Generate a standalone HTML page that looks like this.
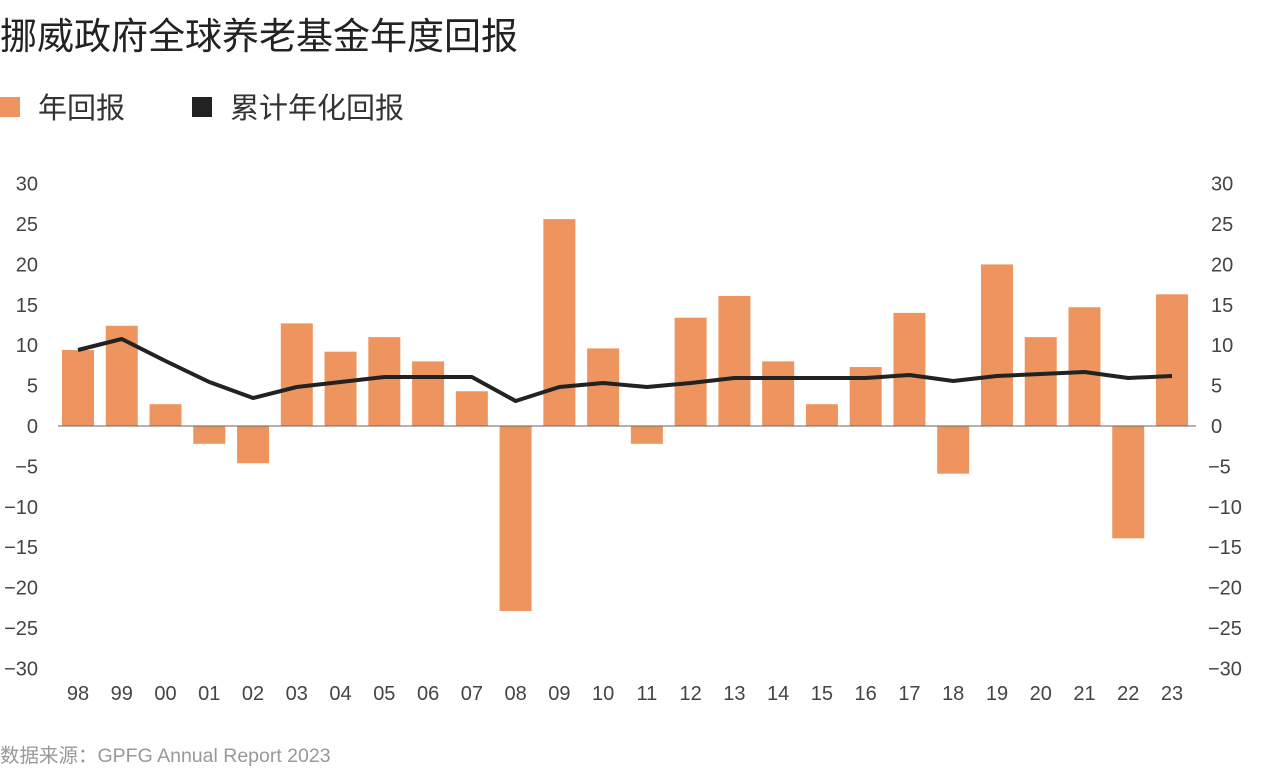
<!DOCTYPE html>
<html><head><meta charset="utf-8"><style>
body{margin:0;background:#fff;width:1280px;height:768px;overflow:hidden;font-family:"Liberation Sans","Noto Sans CJK SC",sans-serif}
</style></head><body>
<svg width="1280" height="768" xmlns="http://www.w3.org/2000/svg" font-family="Liberation Sans, Noto Sans CJK SC, sans-serif">
<text x="0" y="49" font-size="37" fill="#222">挪威政府全球养老基金年度回报</text>
<rect x="0" y="97" width="20" height="20" fill="#EE955F"/>
<text x="38" y="118" font-size="29" fill="#333">年回报</text>
<rect x="192" y="97" width="20" height="20" fill="#222"/>
<text x="230" y="118" font-size="29" fill="#333">累计年化回报</text>
<g id="ax" font-size="20" fill="#444"></g>
<g id="bars" fill="#EE955F"></g>
<line x1="58" y1="426" x2="1196" y2="426" stroke="#666" stroke-width="1"/>
<polyline id="ln" fill="none" stroke="#222" stroke-width="4" stroke-linejoin="round"/>
<text x="0" y="762" font-size="19.5" fill="#999">数据来源：GPFG Annual Report 2023</text>
</svg>
<script>
const ns="http://www.w3.org/2000/svg";
const z=426,s=8.08;
const vals=[9.4,12.4,2.7,-2.2,-4.6,12.7,9.2,11.0,8.0,4.3,-22.9,25.6,9.6,-2.2,13.4,16.1,8.0,2.7,7.3,14.0,-5.9,20.0,11.0,14.7,-13.9,16.3];
const ly=[350,339,361,382,398,387,382,377,377,377,401,387,383,387,383,378,378,378,378,375,381,376,374,372,378,376];
const labs=["98","99","00","01","02","03","04","05","06","07","08","09","10","11","12","13","14","15","16","17","18","19","20","21","22","23"];
const bars=document.getElementById("bars"),ax=document.getElementById("ax");
let pts=[];
vals.forEach((v,i)=>{const cx=78+i*43.76;const r=document.createElementNS(ns,"rect");
const h=Math.abs(v)*s;r.setAttribute("x",cx-16);r.setAttribute("width",32);r.setAttribute("y",v>=0?z-h:z);r.setAttribute("height",h);bars.appendChild(r);
pts.push(cx+","+ly[i]);
const t=document.createElementNS(ns,"text");t.setAttribute("x",cx);t.setAttribute("y",700);t.setAttribute("text-anchor","middle");t.textContent=labs[i];ax.appendChild(t);});
document.getElementById("ln").setAttribute("points",pts.join(" "));
for(let v=30;v>=-30;v-=5){const y=z-v*s+7;const lab=v<0?"−"+(-v):""+v;
let t=document.createElementNS(ns,"text");t.setAttribute("x",38);t.setAttribute("y",y);t.setAttribute("text-anchor","end");t.textContent=lab;ax.appendChild(t);
t=document.createElementNS(ns,"text");t.setAttribute("x",v<0?1208:1211);t.setAttribute("y",y);t.textContent=lab;ax.appendChild(t);}
</script>
</body></html>
